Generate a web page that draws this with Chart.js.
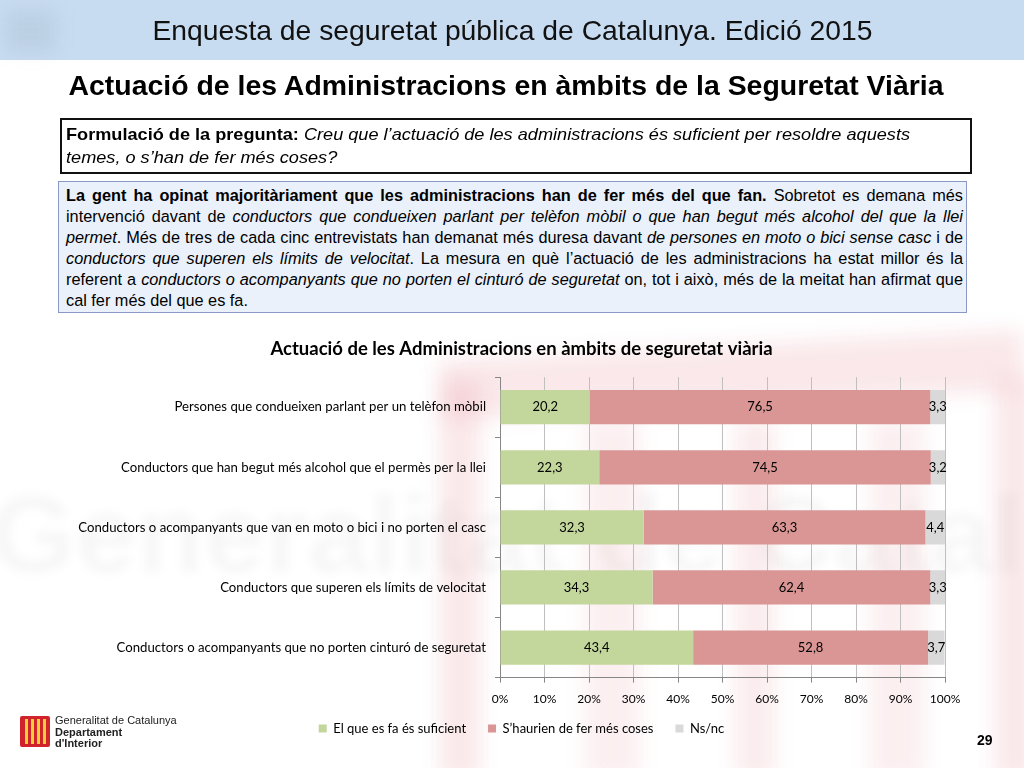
<!DOCTYPE html>
<html>
<head>
<meta charset="utf-8">
<script src="https://cdn.jsdelivr.net/npm/chart.js@4"></script>
<style>
  html, body { margin: 0; padding: 0; }
  body { width: 1024px; height: 768px; position: relative; overflow: hidden; background: #fff; font-family: "Liberation Sans", Arial, sans-serif; }
  .pk { position: absolute; background: rgba(232,150,160,0.22); filter: blur(10px); }
  .gw { position: absolute; left: -10px; top: 470px; font: bold 110px "Liberation Sans", Arial, sans-serif; color: rgba(0,0,0,0.03); filter: blur(5px); white-space: nowrap; }
  .header { position: absolute; left: 0; top: 0; width: 1024px; height: 60px; background: #c8dcf1; }
  .blob { position: absolute; left: 6px; top: 10px; width: 50px; height: 42px; background: rgba(110,120,140,0.12); filter: blur(9px); }
  .fit { display: inline-block; white-space: nowrap; transform-origin: 50% 50%; }
  .header .title { position: absolute; left: 0; top: 13px; width: 1024px; text-align: center; font-size: 28px; line-height: 36px; color: #111; }
  .subtitle { position: absolute; left: 0; top: 69px; width: 1012px; text-align: center; font-weight: bold; font-size: 28px; line-height: 34px; color: #000; }
  .q { position: absolute; left: 60px; top: 118px; width: 900px; height: 49px; border: 2px solid #111; background: #fff; padding: 3px 4px 0 4px; font-size: 16.5px; line-height: 23px; color: #000; }
  .inner { transform-origin: 0 0; white-space: nowrap; }
  .summary { position: absolute; left: 58px; top: 181px; width: 897px; height: 127px; border: 1px solid #8a98c8; background: #eaf1fb; padding: 3px 3px 0 7px; font-size: 16.3px; line-height: 21.1px; color: #000; }
  .summary .inner div { text-align: justify; text-align-last: justify; white-space: nowrap; }
  .summary .inner div.last { text-align-last: left; }
  #wrap { position: absolute; left: 60px; top: 330px; width: 928px; height: 432px; }
  .pnum { position: absolute; left: 977px; top: 732px; font-weight: bold; font-size: 14px; }
  .logo { position: absolute; left: 20px; top: 716px; width: 30px; height: 31px; background: #d0232b; border-radius: 2px; }
  .logo span { position: absolute; top: 3px; height: 25px; width: 3px; background: #f5cf3a; }
  .logotext { position: absolute; left: 55px; top: 715px; font-size: 11px; line-height: 11.5px; color: #222; }
</style>
</head>
<body>
<div class="gw">Generalitat de Catalu</div>
<div class="pk" style="left:440px; top:345px; width:584px; height:60px; transform: rotate(-3deg);"></div>
<div class="pk" style="left:440px; top:380px; width:40px; height:400px;"></div>
<div class="pk" style="left:585px; top:420px; width:55px; height:360px; opacity:0.7;"></div>
<div class="pk" style="left:735px; top:420px; width:40px; height:360px; opacity:0.8;"></div>
<div class="pk" style="left:870px; top:420px; width:55px; height:360px; opacity:0.7;"></div>
<div class="pk" style="left:995px; top:380px; width:40px; height:400px;"></div>
<div class="header"><div class="blob"></div><div class="title"><span class="fit" id="h1">Enquesta de seguretat pública de Catalunya. Edició 2015</span></div></div>
<div class="subtitle"><span class="fit" id="h2">Actuació de les Administracions en àmbits de la Seguretat Viària</span></div>
<div class="q"><div class="inner" id="qInner"><b>Formulació de la pregunta:</b> <i>Creu que l’actuació de les administracions és suficient per resoldre aquests</i><br><i>temes, o s’han de fer més coses?</i></div></div>
<div class="summary"><div class="inner" id="sInner">
  <div><b>La gent ha opinat majoritàriament que les administracions han de fer més del que fan.</b> Sobretot es demana més</div>
  <div>intervenció davant de <i>conductors que condueixen parlant per telèfon mòbil o que han begut més alcohol del que la llei</i></div>
  <div><i>permet</i>. Més de tres de cada cinc entrevistats han demanat més duresa davant <i>de persones en moto o bici sense casc</i> i de</div>
  <div><i>conductors que superen els límits de velocitat</i>. La mesura en què l’actuació de les administracions ha estat millor és la</div>
  <div>referent a <i>conductors o acompanyants que no porten el cinturó de seguretat</i> on, tot i això, més de la meitat han afirmat que</div>
  <div class="last">cal fer més del que es fa.</div>
</div></div>
<div id="wrap"><canvas id="chart"></canvas></div>
<div class="logo"><span style="left:5px"></span><span style="left:11px"></span><span style="left:17px"></span><span style="left:23px"></span></div>
<div class="logotext">Generalitat de Catalunya<br><b>Departament</b><br><b>d'Interior</b></div>
<div class="pnum">29</div>

<script>
const categories = [
  "Persones que condueixen parlant per un telèfon mòbil",
  "Conductors que han begut més alcohol que el permès per la llei",
  "Conductors o acompanyants que van en moto o bici i no porten el casc",
  "Conductors que superen els límits de velocitat",
  "Conductors o acompanyants que no porten cinturó de seguretat"
];
const seriesNames = ["El que es fa és suficient", "S’haurien de fer més coses", "Ns/nc"];
const suficient = [20.2, 22.3, 32.3, 34.3, 43.4];
const mesCoses = [76.5, 74.5, 63.3, 62.4, 52.8];
const nsnc = [3.3, 3.2, 4.4, 3.3, 3.7];
const xTicks = [0, 10, 20, 30, 40, 50, 60, 70, 80, 90, 100];

// fit text blocks to the widths seen on the slide
function squeeze(el, targetWidth) {
  const s = targetWidth / el.getBoundingClientRect().width;
  el.style.transform = "scaleX(" + s + ")";
}
squeeze(document.getElementById("h1"), 720);
squeeze(document.getElementById("h2"), 875);

const qInner = document.getElementById("qInner");
qInner.style.width = "max-content";
const qs = 844 / qInner.getBoundingClientRect().width;
qInner.style.transform = "scaleX(" + qs + ")";

const sInner = document.getElementById("sInner");
let widest = 0;
sInner.querySelectorAll("div").forEach(d => {
  d.style.display = "inline-block";
  widest = Math.max(widest, d.getBoundingClientRect().width);
  d.style.display = "";
});
const ss = Math.min(1, 895 / widest);
sInner.style.width = (897 / ss) + "px";
sInner.style.transform = "scaleX(" + ss + ")";

const chartFont = "Lato, 'Open Sans', sans-serif";

// value in the middle of each segment
const segmentLabels = {
  id: "segmentLabels",
  afterDatasetsDraw(chart) {
    const ctx = chart.ctx;
    ctx.save();
    ctx.font = "13px " + chartFont;
    ctx.fillStyle = "#000";
    ctx.textAlign = "center";
    ctx.textBaseline = "middle";
    chart.data.datasets.forEach((ds, i) => {
      chart.getDatasetMeta(i).data.forEach((bar, j) => {
        ctx.fillText(ds.data[j].toFixed(1).replace(".", ","), (bar.x + bar.base) / 2, bar.y);
      });
    });
    ctx.restore();
  }
};

// title and legend sit a bit right of the canvas centre, legend hugs the axis
const blockNudge = {
  id: "blockNudge",
  afterLayout(chart) {
    const dx = 19;
    if (chart.titleBlock) {
      chart.titleBlock.left += dx;
      chart.titleBlock.right += dx;
    }
    if (chart.legend) {
      chart.legend.left += dx;
      chart.legend.right += dx;
      chart.legend.top -= 15;
      chart.legend.bottom -= 15;
    }
  }
};

new Chart(document.getElementById("chart"), {
  type: "bar",
  data: {
    labels: categories,
    datasets: [
      { label: seriesNames[0], data: suficient, backgroundColor: "#c3d69b" },
      { label: seriesNames[1], data: mesCoses, backgroundColor: "#d99694" },
      { label: seriesNames[2], data: nsnc, backgroundColor: "#d9d9d9" }
    ]
  },
  options: {
    indexAxis: "y",
    responsive: true,
    maintainAspectRatio: false,
    animation: false,
    layout: { padding: { left: 0, right: 43, top: 0, bottom: 2 } },
    datasets: { bar: { categoryPercentage: 1, barPercentage: 0.57 } },
    scales: {
      x: {
        stacked: true,
        min: 0,
        max: 100,
        afterBuildTicks(scale) { scale.ticks = xTicks.map(v => ({ value: v })); },
        grid: { color: "#bfbfbf", tickLength: 5, tickColor: "#868686" },
        border: { color: "#868686" },
        ticks: { color: "#000", font: { family: chartFont, size: 12 }, padding: 9, callback: v => v + "%" }
      },
      y: {
        stacked: true,
        afterFit(scale) { scale.width = 440; },
        grid: { drawOnChartArea: false, tickLength: 5, color: "#868686", offset: true },
        border: { color: "#868686" },
        ticks: { color: "#000", font: { family: chartFont, size: 13.2 }, padding: 9 }
      }
    },
    plugins: {
      title: {
        display: true,
        text: "Actuació de les Administracions en àmbits de seguretat viària",
        color: "#000",
        font: { family: chartFont, size: 18.5, weight: "bold" },
        padding: { top: 8, bottom: 17 }
      },
      legend: {
        position: "bottom",
        labels: { color: "#000", boxWidth: 8, boxHeight: 8, padding: 22, font: { family: chartFont, size: 13 } }
      },
      tooltip: { enabled: false }
    }
  },
  plugins: [segmentLabels, blockNudge]
});
</script>
</body>
</html>
